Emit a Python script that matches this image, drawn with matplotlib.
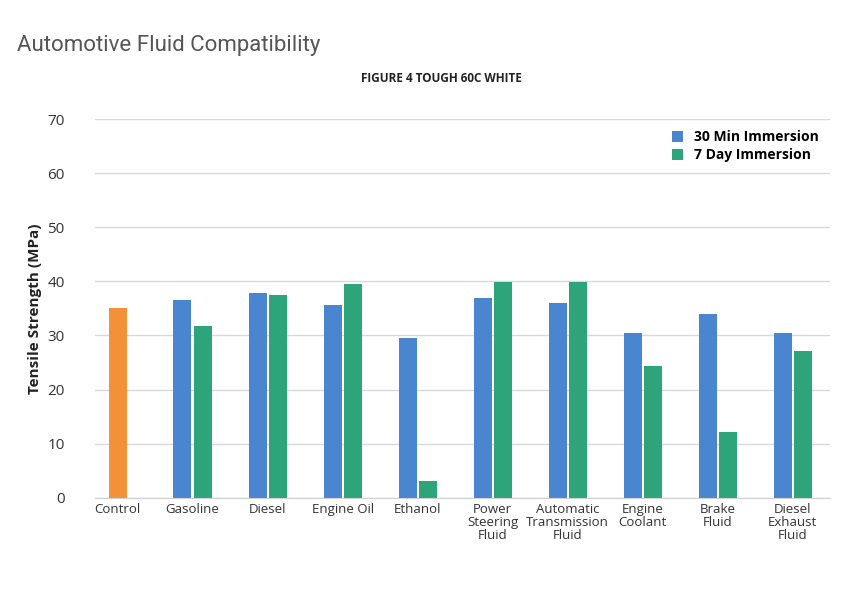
import matplotlib.pyplot as plt
import numpy as np

plt.rcParams["font.family"] = ["Open Sans", "DejaVu Sans"]

categories = ["Control", "Gasoline", "Diesel", "Engine Oil", "Ethanol", "Power\nSteering\nFluid",
              "Automatic\nTransmission\nFluid", "Engine\nCoolant", "Brake\nFluid", "Diesel\nExhaust\nFluid"]
control_value = 35.1
min30 = [36.6, 37.9, 35.6, 29.6, 36.9, 36.0, 30.5, 34.0, 30.5]
day7 = [31.8, 37.5, 39.5, 3.1, 39.9, 39.9, 24.4, 12.2, 27.2]

BLUE, GREEN, ORANGE = "#4a86cf", "#2ea47a", "#f39139"

fig = plt.figure(figsize=(8.49, 5.96), dpi=100)
ax = fig.add_axes([0.112, 0.165, 0.866, 0.635])

x = np.arange(len(categories))
w = 0.24
ax.bar(x[0], control_value, w, color=ORANGE)
ax.bar(x[1:] - 0.135, min30, w, color=BLUE, label="30 Min Immersion")
ax.bar(x[1:] + 0.135, day7, w, color=GREEN, label="7 Day Immersion")

ax.set_xlim(-0.3, 9.5)
ax.set_ylim(0, 70)
ax.set_yticks(range(0, 71, 10))
ax.yaxis.grid(True, color="#d9d9d9", lw=1)
ax.set_axisbelow(True)
for s in ["top", "right", "left"]:
    ax.spines[s].set_visible(False)
ax.spines["bottom"].set_color("#d0d0d0")
ax.tick_params(axis="both", length=0, labelsize=11, colors="#333333")
ax.set_xticks(x)
ax.set_xticklabels(categories, fontsize=9.5, linespacing=1.0)
ax.tick_params(axis="y", pad=22)
ax.set_ylabel("Tensile Strength (MPa)", fontsize=11, fontweight="bold", color="#222222")
ax.legend(loc="upper right", frameon=False, prop={"weight": "bold", "size": 10},
          handlelength=0.8, handleheight=0.8, borderaxespad=0.4, labelspacing=0.3)

fig.text(0.02, 0.915, "Automotive Fluid Compatibility", fontsize=16, color="#555555",
         family="Roboto", fontstretch="condensed")
fig.text(0.52, 0.862, "FIGURE 4 TOUGH 60C WHITE", fontsize=8.5, fontweight="bold",
         color="#222222", ha="center")

fig.savefig("out.png", dpi=100)
